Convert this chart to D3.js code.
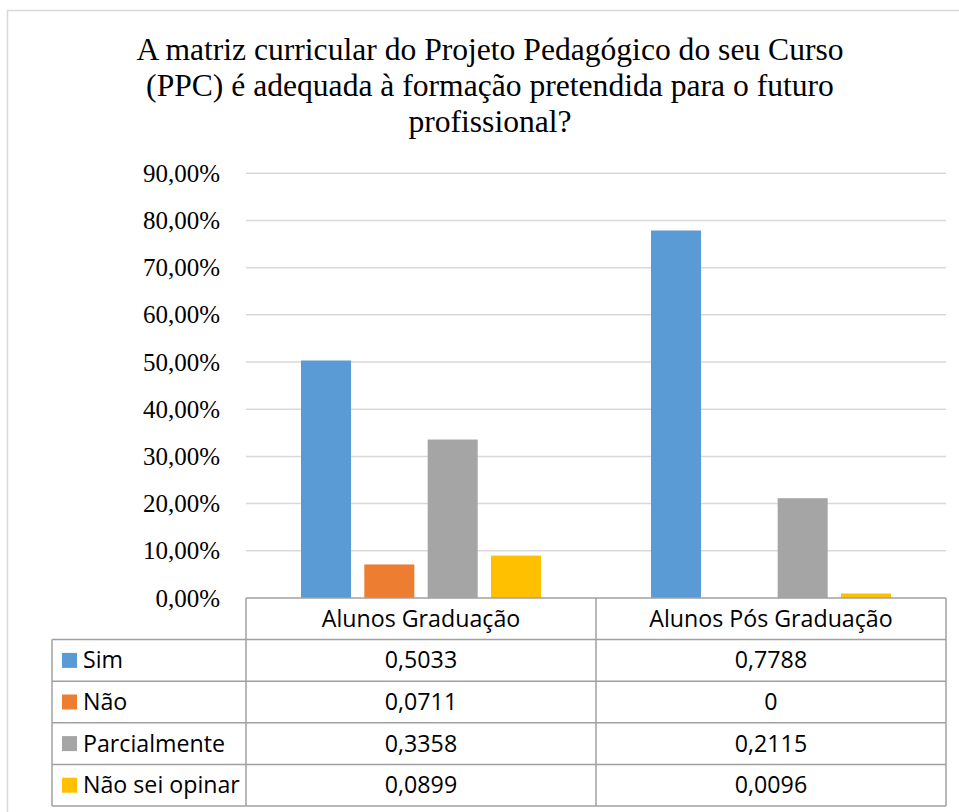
<!DOCTYPE html>
<html>
<head>
<meta charset="utf-8">
<script src="https://cdn.jsdelivr.net/npm/d3@7"></script>
<style>
  body { margin: 0; background: #fff; }
  svg { display: block; }
</style>
</head>
<body>
<div id="chart"></div>
<script>
// chart data
var titleLines = ["A matriz curricular do Projeto Pedagógico do seu Curso",
                  "(PPC) é adequada à formação pretendida para o futuro",
                  "profissional?"];
var categories = ["Alunos Graduação", "Alunos Pós Graduação"];
var seriesNames = ["Sim", "Não", "Parcialmente", "Não sei opinar"];
var seriesColors = ["#5b9bd5", "#ed7d31", "#a5a5a5", "#ffc000"];
var sim = [0.5033, 0.7788];
var nao = [0.0711, 0];
var parcialmente = [0.3358, 0.2115];
var naoSei = [0.0899, 0.0096];
var cellLabels = [["0,5033", "0,7788"], ["0,0711", "0"], ["0,3358", "0,2115"], ["0,0899", "0,0096"]];
var yTicks = [0, 0.1, 0.2, 0.3, 0.4, 0.5, 0.6, 0.7, 0.8, 0.9];

var allSeries = [sim, nao, parcialmente, naoSei];

var width = 959, height = 812;
var plot = { left: 246, right: 946, top: 173.3, bottom: 598 };
var rowH = 41.6;
var legendLeft = 52;

var svg = d3.select("#chart").append("svg")
    .attr("width", width)
    .attr("height", height);

// outer frame (cut off at right and bottom like the screenshot)
svg.append("rect")
    .attr("x", 7.5).attr("y", 10.5)
    .attr("width", 1000).attr("height", 1000)
    .attr("fill", "none")
    .attr("stroke", "#d9d9d9")
    .attr("stroke-width", 1.5);

// title
svg.append("text")
    .attr("x", 490).attr("y", 60)
    .attr("text-anchor", "middle")
    .style("font-family", "'Liberation Serif', 'Times New Roman', serif")
    .style("font-size", "31.6px")
    .attr("fill", "#000")
    .selectAll("tspan")
    .data(titleLines)
    .enter()
    .append("tspan")
    .attr("x", 490)
    .attr("dy", function (d, i) { return i === 0 ? 0 : 36; })
    .text(function (d) { return d; });

var y = d3.scaleLinear().domain([0, 0.9]).range([plot.bottom, plot.top]);
var x0 = d3.scaleBand().domain(categories).range([plot.left, plot.right]).padding(0);
var x1 = d3.scaleBand().domain(seriesNames).range([0, x0.bandwidth()])
    .paddingInner(0.21).paddingOuter(0.868);

var pct = d3.formatLocale({ decimal: ",", thousands: ".", grouping: [3], currency: ["R$", ""] }).format(".2%");

// gridlines
svg.append("g")
    .selectAll("line")
    .data(yTicks.slice(1))
    .enter()
    .append("line")
    .attr("x1", plot.left).attr("x2", plot.right)
    .attr("y1", function (d) { return y(d); })
    .attr("y2", function (d) { return y(d); })
    .attr("stroke", "#d9d9d9")
    .attr("stroke-width", 1.5);

// y axis labels
var yAxis = d3.axisLeft(y).tickValues(yTicks).tickFormat(pct).tickSize(0).tickPadding(26);
var ag = svg.append("g").attr("transform", "translate(" + plot.left + ",0)").call(yAxis);
ag.select(".domain").remove();
ag.selectAll("text")
    .style("font-family", "'Liberation Serif', 'Times New Roman', serif")
    .style("font-size", "25px")
    .attr("fill", "#000");

// bars
seriesNames.forEach(function (name, si) {
    svg.append("g")
        .selectAll("rect")
        .data(allSeries[si])
        .enter()
        .append("rect")
        .attr("x", function (d, i) { return x0(categories[i]) + x1(name); })
        .attr("y", function (d) { return y(d); })
        .attr("width", x1.bandwidth())
        .attr("height", function (d) { return y(0) - y(d); })
        .attr("fill", seriesColors[si]);
});

// data table
var tableColor = "#a0a0a0";
var tg = svg.append("g");
var tableFont = "'Open Sans', 'Noto Sans', sans-serif";
var tableSize = "23.2px";

// horizontal lines
var rowsY = d3.range(seriesNames.length + 2).map(function (i) { return plot.bottom + i * rowH; });
tg.selectAll("line.h")
    .data(rowsY)
    .enter()
    .append("line")
    .attr("class", "h")
    .attr("x1", function (d, i) { return i === 0 ? plot.left : legendLeft; })
    .attr("x2", plot.right)
    .attr("y1", function (d) { return d; })
    .attr("y2", function (d) { return d; })
    .attr("stroke", tableColor)
    .attr("stroke-width", 1.5);

// vertical lines
var bottomY = rowsY[rowsY.length - 1];
var vx = [legendLeft, plot.left].concat(categories.map(function (c) { return x0(c) + x0.bandwidth(); }));
tg.selectAll("line.v")
    .data(vx)
    .enter()
    .append("line")
    .attr("class", "v")
    .attr("x1", function (d) { return d; })
    .attr("x2", function (d) { return d; })
    .attr("y1", function (d, i) { return i === 0 ? plot.bottom + rowH : plot.bottom; })
    .attr("y2", bottomY)
    .attr("stroke", tableColor)
    .attr("stroke-width", 1.5);

// header
tg.selectAll("text.head")
    .data(categories)
    .enter()
    .append("text")
    .attr("class", "head")
    .attr("x", function (d) { return x0(d) + x0.bandwidth() / 2; })
    .attr("y", plot.bottom + rowH / 2 + 8)
    .attr("text-anchor", "middle")
    .style("font-family", tableFont)
    .style("font-size", tableSize)
    .attr("fill", "#000")
    .text(function (d) { return d; });

// legend rows
seriesNames.forEach(function (name, si) {
    var ry = plot.bottom + (si + 1) * rowH;
    tg.append("rect")
        .attr("x", 62).attr("y", ry + rowH / 2 - 7.5)
        .attr("width", 15).attr("height", 15)
        .attr("fill", seriesColors[si]);
    tg.append("text")
        .attr("x", 83).attr("y", ry + rowH / 2 + 8)
        .style("font-family", tableFont)
        .style("font-size", tableSize)
        .attr("fill", "#000")
        .text(name);
    tg.selectAll(null)
        .data(cellLabels[si])
        .enter()
        .append("text")
        .attr("x", function (d, i) { return x0(categories[i]) + x0.bandwidth() / 2; })
        .attr("y", ry + rowH / 2 + 8)
        .attr("text-anchor", "middle")
        .style("font-family", tableFont)
        .style("font-size", tableSize)
        .attr("fill", "#000")
        .text(function (d) { return d; });
});
</script>
</body>
</html>
